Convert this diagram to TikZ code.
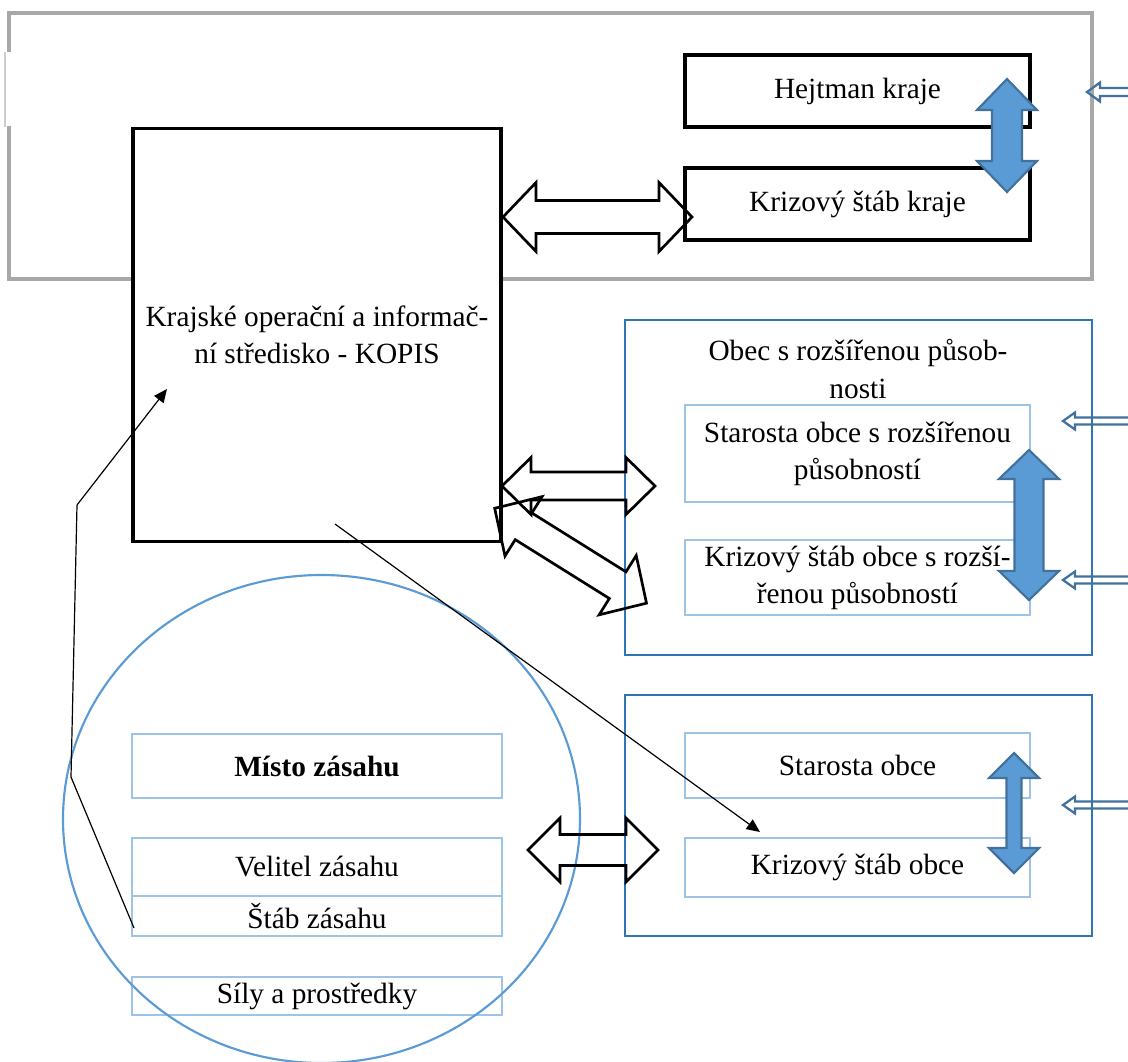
\documentclass[tikz,border=0pt]{standalone}
\usepackage{fontspec}
\setmainfont{Liberation Serif}
\usetikzlibrary{arrows.meta}
\definecolor{framegray}{RGB}{170,167,167}
\definecolor{lightline}{RGB}{205,205,205}
\definecolor{darkblue}{RGB}{46,117,182}
\definecolor{paleblue}{RGB}{157,195,230}
\definecolor{midblue}{RGB}{91,155,213}
\definecolor{edgeblue}{RGB}{65,113,156}
% #1 style, #2 start point, #3 angle, #4 length, #5 head length, #6 head half width, #7 shaft half width
\newcommand{\blockarrow}[7]{%
  \begin{scope}[shift={#2},rotate=#3]
    \draw[#1] (0,0) -- (#5,#6) -- (#5,#7) -- ({#4-#5},#7) -- ({#4-#5},#6) -- (#4,0)
      -- ({#4-#5},-#6) -- ({#4-#5},-#7) -- (#5,-#7) -- (#5,-#6) -- cycle;
  \end{scope}}
% #1 tip x, #2 tip y, #3 head length, #4 head half width, #5 shaft half width
\newcommand{\sidearrow}[5]{%
  \draw[sidearrowline] (1132,{#2-#5}) -- ({#1+#3},{#2-#5}) -- ({#1+#3},{#2-#4}) -- (#1,#2)
    -- ({#1+#3},{#2+#4}) -- ({#1+#3},{#2+#5}) -- (1132,{#2+#5});}
\begin{document}
\begin{tikzpicture}[x=0.375pt,y=-0.375pt,
  font=\fontsize{11}{13.9}\selectfont,
  sz/.style 2 args={minimum width={#1*0.375pt},minimum height={#2*0.375pt}},
  blackbox/.style={draw=black,line width=1.2pt,fill=white,inner sep=0pt,outer sep=0pt,align=center},
  outerblue/.style={draw=darkblue,line width=1.1pt,inner sep=0pt,outer sep=0pt},
  innerblue/.style={draw=paleblue,line width=1.1pt,inner sep=0pt,outer sep=0pt,align=center},
  hollowarrow/.style={draw=black,line width=1.0pt,line join=miter},
  filledarrow/.style={draw=edgeblue,fill=midblue,line width=0.8pt,line join=miter},
  sidearrowline/.style={draw=edgeblue,line width=0.85pt,line join=miter},
  thinline/.style={draw=black,line width=0.45pt},
  tip/.style={-{Triangle[length=5pt,width=4.4pt]}}
]
\useasboundingbox (0,0) rectangle (1128,1061);
\clip (0,0) rectangle (1128,1061);
\fill[white] (0,0) rectangle (1128,1061);

% grey frame of the region
\draw[framegray,line width=1.2pt] (9,52) -- (9,13) -- (1092,13) -- (1092,279) -- (9,279) -- (9,126);
\draw[lightline,line width=0.5pt] (5,52) -- (5,127);

% boxes
\node[blackbox,sz={368}{413}] (kopis) at (317,335) {Krajské operační a informač-\\ní středisko - KOPIS};
\node[blackbox,sz={345}{72}] (hejtman) at (857.5,91) {\raisebox{-0.8pt}{Hejtman kraje}};
\node[blackbox,sz={345}{72}] (kskraje) at (857.5,204) {\raisebox{-1.5pt}{Krizový štáb kraje}};

\node[outerblue,sz={467}{335}] (orp) at (858.5,487.5) {};
\node[align=center,inner sep=0pt] (orplabel) at (858,369) {Obec s rozšířenou působ-\\nosti};
\node[innerblue,sz={345}{97}] (starostaorp) at (857.5,453.5) {Starosta obce s rozšířenou\\působností};
\node[innerblue,sz={345}{75}] (ksorp) at (857.5,577.5) {Krizový štáb obce s rozší-\\řenou působností};

\node[outerblue,sz={467}{241}] (obec) at (858.5,815.5) {};
\node[innerblue,sz={345}{65}] (starosta) at (857.5,765.5) {Starosta obce};
\node[innerblue,sz={345}{59}] (ksobce) at (857.5,867.5) {Krizový štáb obce};

\node[innerblue,sz={370}{64}] (misto) at (317,766) {\textbf{Místo zásahu}};
\node[innerblue,sz={370}{58}] (velitel) at (317,867) {Velitel zásahu};
\node[innerblue,sz={370}{40}] (stab) at (317,916) {Štáb zásahu};
\node[innerblue,sz={370}{38}] (sily) at (317,996) {Síly a prostředky};

% the place of intervention
\draw[midblue,line width=0.8pt] (321.5,819) ellipse [x radius=258.5, y radius=244];

% hollow double arrows
\blockarrow{hollowarrow}{(503,217)}{0}{189}{33}{34.5}{16.5}
\blockarrow{hollowarrow}{(502,486)}{0}{153}{29}{28.5}{14}
\blockarrow{hollowarrow}{(494.7,508.3)}{-32}{179}{34}{35}{15.7}
\blockarrow{hollowarrow}{(528,850)}{0}{130}{32}{32}{15.5}

% black connectors
\coordinate (p1) at (77,505);
\coordinate (p2) at (71,777);
\coordinate (p3) at (134,928);
\coordinate (a1) at (167,389);
\coordinate (d1) at (335,524);
\coordinate (d2) at (760,832);
\draw[thinline,tip] (p1) -- (a1);
\draw[thinline] (p1) -- (p2) -- (p3);
\draw[thinline,tip] (d1) -- (d2);

% filled blue double arrows
\blockarrow{filledarrow}{(1007,79)}{-90}{113}{31}{30}{15}
\blockarrow{filledarrow}{(1029,450)}{-90}{150}{29}{30}{14.5}
\blockarrow{filledarrow}{(1014,753)}{-90}{120}{25}{25}{7.5}

% incoming arrows at the right edge
\sidearrow{1087}{92}{13}{9.5}{4}
\sidearrow{1063}{421}{12}{8.5}{3.5}
\sidearrow{1063}{580}{12}{8.5}{3.5}
\sidearrow{1063}{805}{12}{8.5}{3.5}
\end{tikzpicture}
\end{document}
